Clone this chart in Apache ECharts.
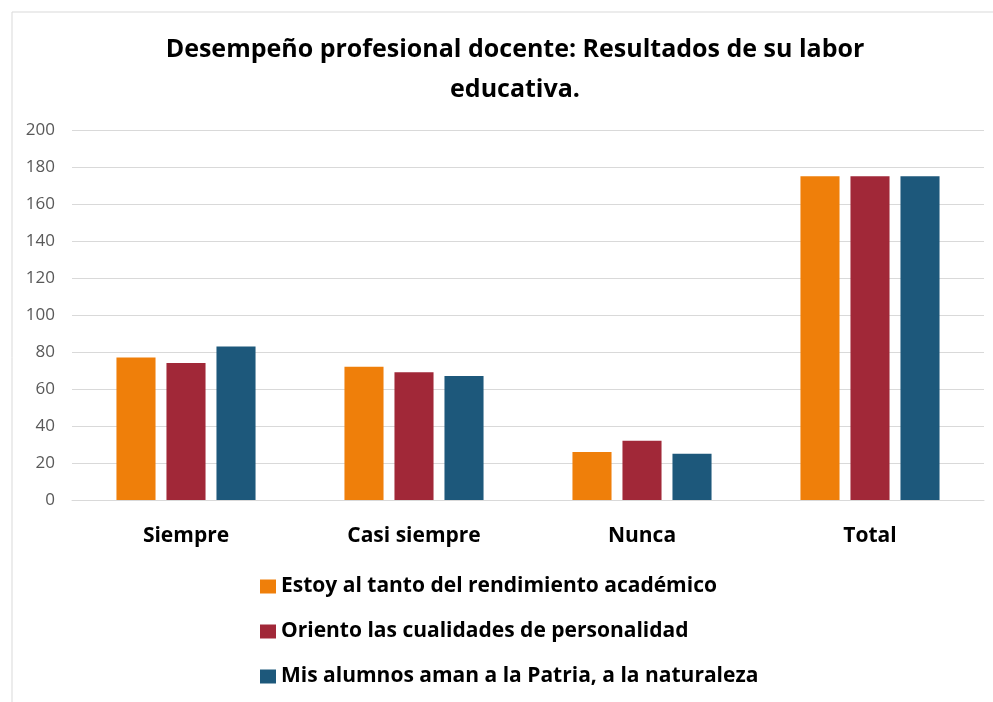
<!DOCTYPE html>
<html>
<head>
<meta charset="utf-8">
<script src="https://cdn.jsdelivr.net/npm/echarts@6/dist/echarts.min.js"></script>
<style>html,body{margin:0;padding:0;background:#fff}#c{width:993px;height:702px}</style>
</head>
<body>
<div id="c"></div>
<script>
const categories = ['Siempre', 'Casi siempre', 'Nunca', 'Total'];
const seriesNames = [
  'Estoy al tanto del rendimiento académico',
  'Oriento las cualidades de personalidad',
  'Mis alumnos aman a la Patria, a la naturaleza'
];
const rendimiento = [77, 72, 26, 175];
const cualidades = [74, 69, 32, 175];
const patria = [83, 67, 25, 175];
const yTicks = [0, 20, 40, 60, 80, 100, 120, 140, 160, 180, 200];
const colors = ['#EF7F0A', '#A12838', '#1D587B'];

const F = 'Open Sans';
const chart = echarts.init(document.getElementById('c'));
const values = [rendimiento, cualidades, patria];
chart.setOption({
  backgroundColor: '#fff',
  animation: false,
  title: {
    text: 'Desempeño profesional docente: Resultados de su labor\neducativa.',
    left: 510, textAlign: 'center', top: 25,
    textStyle: { fontFamily: F, fontWeight: 'bold', fontSize: 25, color: '#000', lineHeight: 40 }
  },
  legend: {
    orient: 'vertical', left: 255, top: 571, itemGap: 24,
    itemWidth: 16, itemHeight: 14, icon: 'rect',
    textStyle: { fontFamily: F, fontWeight: 'bold', fontSize: 21, color: '#000' }
  },
  grid: { left: 72, right: 9, top: 130, bottom: 202, containLabel: false },
  xAxis: {
    type: 'category', data: categories,
    axisLine: { show: true, lineStyle: { color: '#d9d9d9', width: 1 } },
    axisTick: { show: false },
    axisLabel: { fontFamily: F, fontWeight: 'bold', fontSize: 21, color: '#000', margin: 26 }
  },
  yAxis: {
    type: 'value', min: yTicks[0], max: yTicks[yTicks.length - 1], interval: 20,
    axisLine: { show: false }, axisTick: { show: false },
    splitLine: { lineStyle: { color: '#d9d9d9', width: 1 } },
    axisLabel: { fontFamily: F, fontSize: 17, color: '#595959', margin: 17 }
  },
  series: seriesNames.map((n, i) => ({
    name: n, type: 'bar', data: values[i],
    barGap: '28%', barCategoryGap: '39%',
    itemStyle: { color: colors[i] }
  })),
  graphic: [
    { type: 'rect', shape: { x: 12, y: 12, width: 990, height: 700 }, style: { fill: 'none', stroke: '#d9d9d9', lineWidth: 1 }, silent: true }
  ]
});
</script>
</body>
</html>
